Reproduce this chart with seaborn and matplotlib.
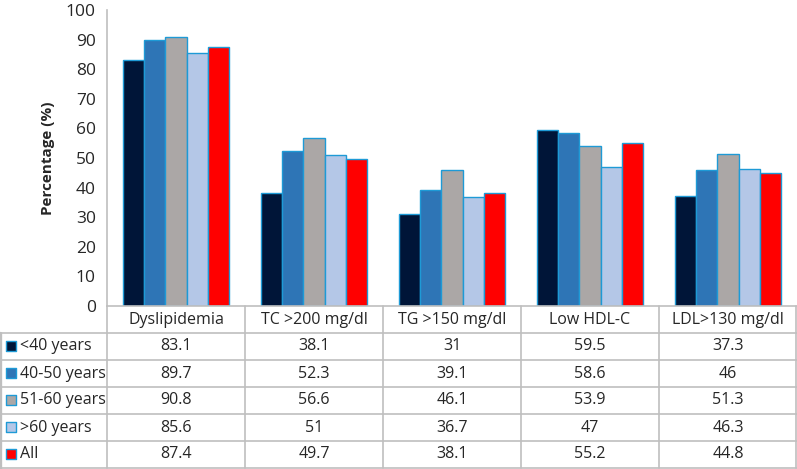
import matplotlib
matplotlib.use("Agg")
import matplotlib.pyplot as plt
import seaborn as sns
import pandas as pd

# =====================================================
# DATA
# =====================================================

categories = ["Dyslipidemia", "TC >200 mg/dl", "TG >150 mg/dl", "Low HDL-C", "LDL>130 mg/dl"]
groups = ["<40 years", "40-50 years", "51-60 years", ">60 years", "All"]

under_40 = [83.1, 38.1, 31, 59.5, 37.3]
age_40_50 = [89.7, 52.3, 39.1, 58.6, 46]
age_51_60 = [90.8, 56.6, 46.1, 53.9, 51.3]
over_60 = [85.6, 51, 36.7, 47, 46.3]
all_ages = [87.4, 49.7, 38.1, 55.2, 44.8]

series = [under_40, age_40_50, age_51_60, over_60, all_ages]
colors = ["#001538", "#2E75B6", "#ABA7A6", "#B4C7E7", "#FF0000"]
edge_color = "#1E9AD6"
grid_color = "#BFBFBF"

rows = []
for g, vals in zip(groups, series):
    for c, v in zip(categories, vals):
        rows.append({"category": c, "group": g, "value": v})
df = pd.DataFrame(rows)

# =====================================================
# FIGURE
# =====================================================

sns.set_style("white")
plt.rcParams["font.family"] = ["Open Sans", "DejaVu Sans"]

W, H = 797, 469
fig = plt.figure(figsize=(W / 100, H / 100), dpi=100)

left_px, right_px = 107, 797
top_px, bottom_px = 10, 306
row_h = 27

ax = fig.add_axes([left_px / W, 1 - bottom_px / H,
                   (right_px - left_px) / W, (bottom_px - top_px) / H])

sns.barplot(
    data=df, x="category", y="value", hue="group",
    order=categories, hue_order=groups, palette=colors,
    width=0.77, edgecolor=edge_color, linewidth=1.0,
    saturation=1, legend=False, ax=ax
)

ax.set_xlim(-0.5, len(categories) - 0.5)
ax.set_ylim(0, 100)
ax.set_yticks(range(0, 101, 10))
ax.tick_params(axis="y", labelsize=12.5, length=0, pad=8)
ax.set_xticks([])
ax.set_xlabel("")
ax.set_ylabel("Percentage (%)", fontsize=11, fontweight="bold", labelpad=8)
for s in ["top", "right"]:
    ax.spines[s].set_visible(False)
for s in ["left", "bottom"]:
    ax.spines[s].set_color(grid_color)
    ax.spines[s].set_linewidth(1.2)

# =====================================================
# DATA TABLE
# =====================================================

tb = fig.add_axes([0, 0, 1, 1])
tb.set_xlim(0, W)
tb.set_ylim(H, 0)
tb.axis("off")
tb.patch.set_alpha(0)

col_w = (right_px - left_px) / len(categories)
table_bottom = bottom_px + row_h * (len(groups) + 1)

# header row
for i, c in enumerate(categories):
    tb.text(left_px + col_w * (i + 0.5), bottom_px + row_h / 2, c,
            ha="center", va="center", fontsize=11.5)

# data rows
for r, (g, vals) in enumerate(zip(groups, series)):
    yc = bottom_px + row_h * (r + 1.5)
    tb.scatter([11], [yc], marker="s", s=55, color=colors[r],
               edgecolor=edge_color, linewidth=1.0)
    tb.text(20, yc, g, ha="left", va="center", fontsize=11.5)
    for i, v in enumerate(vals):
        tb.text(left_px + col_w * (i + 0.5), yc, f"{v:g}",
                ha="center", va="center", fontsize=11.5)

# grid lines
lw = 1.2
for r in range(len(groups) + 1):
    y = bottom_px + row_h * (r + 1)
    tb.plot([0, W], [y, y], color=grid_color, lw=lw)
tb.plot([0, 0], [bottom_px + row_h, table_bottom], color=grid_color, lw=lw * 2)
for i in range(len(categories)):
    x = left_px + col_w * i
    tb.plot([x, x], [bottom_px, table_bottom], color=grid_color, lw=lw)
tb.plot([W - 1, W - 1], [bottom_px, table_bottom], color=grid_color, lw=lw)

fig.savefig("out.png", dpi=100)
